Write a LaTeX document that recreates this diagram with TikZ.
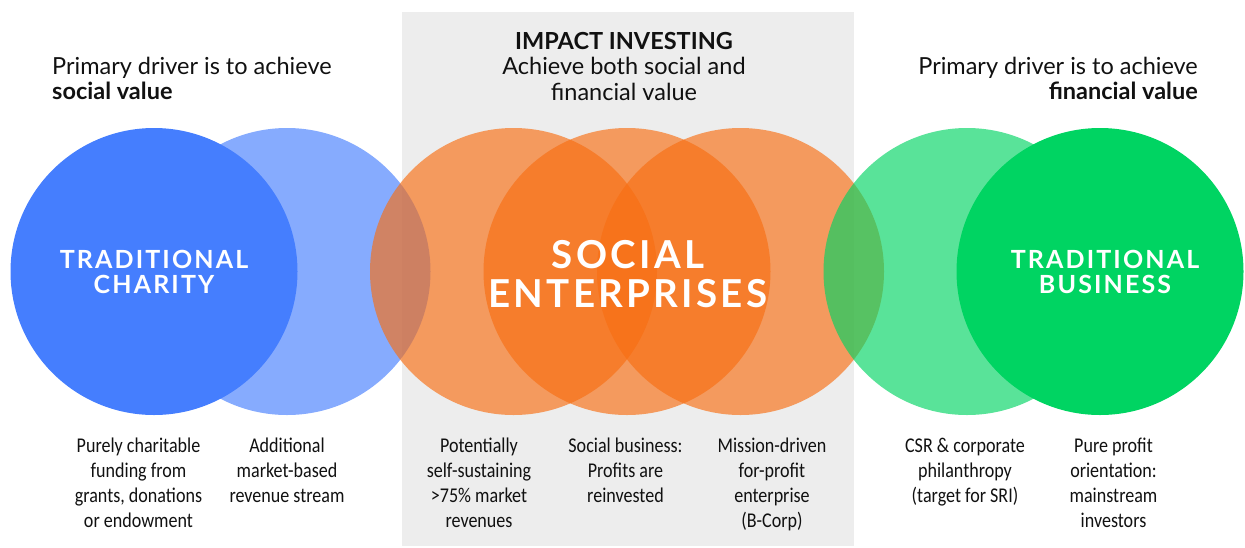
\documentclass[tikz,border=0pt]{standalone}
\usepackage{fontspec}
\setmainfont{Lato}
\newfontfamily\circlefont[LetterSpace=8.5]{Lato}
\newfontfamily\notefont[FakeStretch=0.86]{Carlito}

\definecolor{charity}{RGB}{69,126,254}
\definecolor{business}{RGB}{0,212,98}
\definecolor{enterprise}{RGB}{248,110,18}
\definecolor{panel}{RGB}{237,237,237}
\definecolor{ink}{RGB}{17,17,17}

% a block of lines whose baseline is that of its first line
\newcommand\lines[3]{\parbox[t]{#1}{#2#3}}

\begin{document}
\begin{tikzpicture}[x=1pt,y=-1pt,
  headtext/.style={inner sep=0pt, text=ink, font=\fontsize{23.5}{25}\selectfont},
  circletext/.style={inner sep=0pt, text=white, anchor=base},
  notetext/.style={inner sep=0pt, text=ink, anchor=base, font=\notefont\fontsize{21}{25}\selectfont},
  venn/.style={circle, inner sep=0pt, minimum size=287pt}]
\useasboundingbox (0,0) rectangle (1245,547);

% impact investing panel
\fill[panel] (402,12) rectangle (854,546);

% charity circles
\node[venn, fill=charity, fill opacity=0.65] (marketbased) at (287,271.5) {};
\node[venn, fill=charity] (charity) at (154,271.5) {};

% social enterprise circles
\node[venn, fill=enterprise, fill opacity=0.65] (selfsust) at (513.5,271.5) {};
\node[venn, fill=enterprise, fill opacity=0.65] (socbiz) at (627,271.5) {};
\node[venn, fill=enterprise, fill opacity=0.65] (mission) at (740.5,271.5) {};

% business circles
\node[venn, fill=business, fill opacity=0.65] (csr) at (967,271.5) {};
\node[venn, fill=business] (business) at (1100,271.5) {};

% headings
\node[headtext, anchor=base west] (socialhead) at (52,74)
  {\lines{300pt}{\raggedright}{Primary driver is to achieve\\\textbf{social value}}};
\node[headtext, anchor=base] (impacthead) at (624,49)
  {\lines{400pt}{\centering\baselineskip=25.5pt}{\textbf{IMPACT INVESTING}\\Achieve both social and\\financial value}};
\node[headtext, anchor=base east] (financehead) at (1198,74)
  {\lines{300pt}{\raggedleft}{Primary driver is to achieve\\\textbf{financial value}}};

% circle titles
\node[circletext, font=\circlefont\bfseries\fontsize{25}{25}\selectfont] (charitytitle) at (154,268)
  {\lines{250pt}{\centering}{TRADITIONAL\\CHARITY}};
\node[circletext, font=\circlefont\bfseries\fontsize{38.5}{39}\selectfont] (setitle) at (628,268)
  {\lines{320pt}{\centering}{SOCIAL\\ENTERPRISES}};
\node[circletext, font=\circlefont\bfseries\fontsize{25}{25}\selectfont] (businesstitle) at (1105,268)
  {\lines{250pt}{\centering}{TRADITIONAL\\BUSINESS}};

% notes under the circles
\node[notetext] (note1) at (138.5,452) {\lines{150pt}{\centering}{Purely charitable\\funding from\\grants, donations\\or endowment}};
\node[notetext] (note2) at (287,452) {\lines{150pt}{\centering}{Additional\\market-based\\revenue stream}};
\node[notetext] (note3) at (479,452) {\lines{150pt}{\centering}{Potentially\\self-sustaining\\>75\% market\\revenues}};
\node[notetext] (note4) at (625.5,452) {\lines{150pt}{\centering}{Social business:\\Profits are\\reinvested}};
\node[notetext] (note5) at (772,452) {\lines{150pt}{\centering}{Mission-driven\\for-profit\\enterprise\\(B-Corp)}};
\node[notetext] (note6) at (965,452) {\lines{150pt}{\centering}{CSR \& corporate\\philanthropy\\(target for SRI)}};
\node[notetext] (note7) at (1113.5,452) {\lines{150pt}{\centering}{Pure profit\\orientation:\\mainstream\\investors}};
\end{tikzpicture}
\end{document}
